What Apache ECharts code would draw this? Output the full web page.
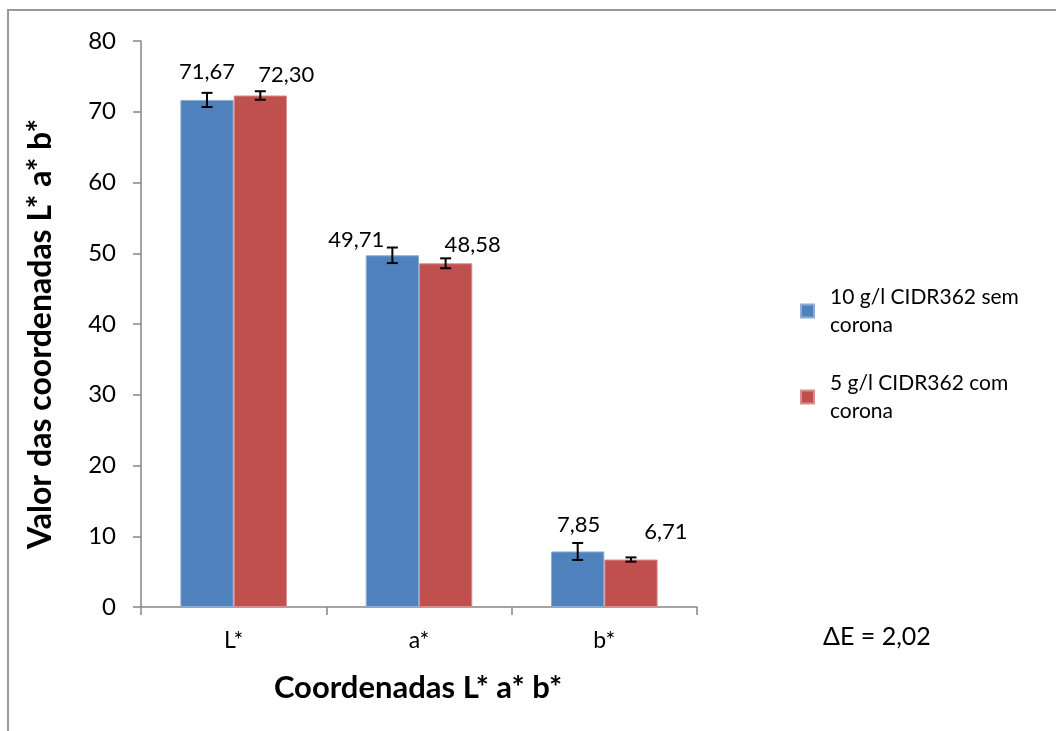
<!DOCTYPE html>
<html>
<head>
<meta charset="utf-8">
<script src="https://cdn.jsdelivr.net/npm/echarts@6/dist/echarts.min.js"></script>
<style>
  html, body { margin: 0; padding: 0; background: #fff; }
  #chart { width: 1056px; height: 731px; }
</style>
</head>
<body>
<div id="chart"></div>
<script>
// Colour coordinates (CIELAB) for the two treatments
const categories = ['L*', 'a*', 'b*'];
const seriesNames = ['10 g/l CIDR362 sem\ncorona', '5 g/l CIDR362 com\ncorona'];
const semCorona = [71.67, 49.71, 7.85];
const comCorona = [72.30, 48.58, 6.71];
const semCoronaErr = [1.0, 1.1, 1.2];
const comCoronaErr = [0.6, 0.7, 0.3];
const yTicks = [0, 10, 20, 30, 40, 50, 60, 70, 80];
const deltaE = '2,02';

// label nudges (px) per bar: [dx, dy above bar top]
const labelShift = [
  [[0, 28], [26, 21]],
  [[-36, 15], [27, 18]],
  [[1, 27], [35, 28]]
];

const FONT = 'Lato, "Open Sans", sans-serif';
const COLORS = ['#4F81BD', '#C0504D'];
const CAT_GAP = 0.425;

const fmt = v => v.toFixed(2).replace('.', ',');

function errorSeries(idx, values, errs) {
  return {
    type: 'custom',
    z: 5,
    silent: true,
    data: values.map((v, i) => [i, v, errs[i]]),
    renderItem: function (params, api) {
      const i = api.value(0);
      const v = api.value(1);
      const e = api.value(2);
      const band = api.size([1, 0])[0];
      const barW = band * (1 - CAT_GAP) / 2;
      const c = api.coord([i, v]);
      const x = c[0] + (idx === 0 ? -barW / 2 : barW / 2);
      const yHi = api.coord([i, v + e])[1];
      const yLo = api.coord([i, v - e])[1];
      const cap = 5.5;
      const st = { stroke: '#000', lineWidth: 2 };
      const sh = labelShift[i][idx];
      return {
        type: 'group',
        children: [
          { type: 'line', shape: { x1: x, y1: yHi, x2: x, y2: yLo }, style: st },
          { type: 'line', shape: { x1: x - cap, y1: yHi, x2: x + cap, y2: yHi }, style: st },
          { type: 'line', shape: { x1: x - cap, y1: yLo, x2: x + cap, y2: yLo }, style: st },
          {
            type: 'text',
            style: {
              x: x + sh[0], y: c[1] - sh[1],
              text: fmt(v),
              align: 'center', verticalAlign: 'middle',
              font: '22px ' + FONT, fill: '#000'
            }
          }
        ]
      };
    }
  };
}

const chart = echarts.init(document.getElementById('chart'), null, { renderer: 'canvas' });

chart.setOption({
  backgroundColor: '#fff',
  animation: false,
  textStyle: { fontFamily: FONT },
  grid: { left: 141, right: 359, top: 41, bottom: 124, containLabel: false },
  legend: {
    orient: 'vertical',
    left: 795,
    top: 278,
    itemWidth: 13,
    itemHeight: 13,
    itemGap: 30,
    icon: 'rect',
    data: seriesNames,
    textStyle: { fontSize: 21, lineHeight: 28, color: '#000', fontFamily: FONT, padding: [0, 0, 0, 11] }
  },
  xAxis: {
    type: 'category',
    data: categories,
    axisLine: { lineStyle: { color: '#868686', width: 1.5 } },
    axisTick: { show: true, length: 8, lineStyle: { color: '#868686', width: 1.5 } },
    axisLabel: { fontSize: 23, color: '#000', margin: 22, fontFamily: FONT }
  },
  yAxis: {
    type: 'value',
    min: 0,
    max: 80,
    interval: 10,
    axisLine: { show: true, lineStyle: { color: '#868686', width: 1.5 } },
    axisTick: { show: true, length: 8, lineStyle: { color: '#868686', width: 1.5 } },
    splitLine: { show: false },
    axisLabel: {
      fontSize: 24, color: '#000', margin: 25, fontFamily: FONT,
      formatter: v => yTicks.includes(v) ? String(v) : ''
    }
  },
  series: [
    {
      name: seriesNames[0], type: 'bar', data: semCorona,
      barGap: '0%', barCategoryGap: (CAT_GAP * 100) + '%',
      itemStyle: { color: COLORS[0], borderColor: '#8EAAD6', borderWidth: 1 }
    },
    {
      name: seriesNames[1], type: 'bar', data: comCorona,
      barGap: '0%', barCategoryGap: (CAT_GAP * 100) + '%',
      itemStyle: { color: COLORS[1], borderColor: '#D88E8C', borderWidth: 1 }
    },
    errorSeries(0, semCorona, semCoronaErr),
    errorSeries(1, comCorona, comCoronaErr)
  ],
  graphic: [
    {
      type: 'rect', silent: true, z: -1,
      shape: { x: 8, y: 10, width: 1200, height: 900 },
      style: { fill: 'none', stroke: '#9a9a9a', lineWidth: 2 }
    },
    {
      type: 'text', x: 41, y: 334, rotation: Math.PI / 2,
      style: {
        text: 'Valor das coordenadas L* a* b*',
        font: 'bold 32px ' + FONT, fill: '#000',
        align: 'center', verticalAlign: 'middle'
      }
    },
    {
      type: 'text', x: 418, y: 688,
      style: {
        text: 'Coordenadas L* a* b*',
        font: 'bold 31px ' + FONT, fill: '#000',
        align: 'center', verticalAlign: 'middle'
      }
    },
    {
      type: 'text', x: 823, y: 637,
      style: {
        text: '\u0394E = ' + deltaE,
        font: '25px ' + FONT, fill: '#000',
        align: 'left', verticalAlign: 'middle'
      }
    }
  ]
});
</script>
</body>
</html>
